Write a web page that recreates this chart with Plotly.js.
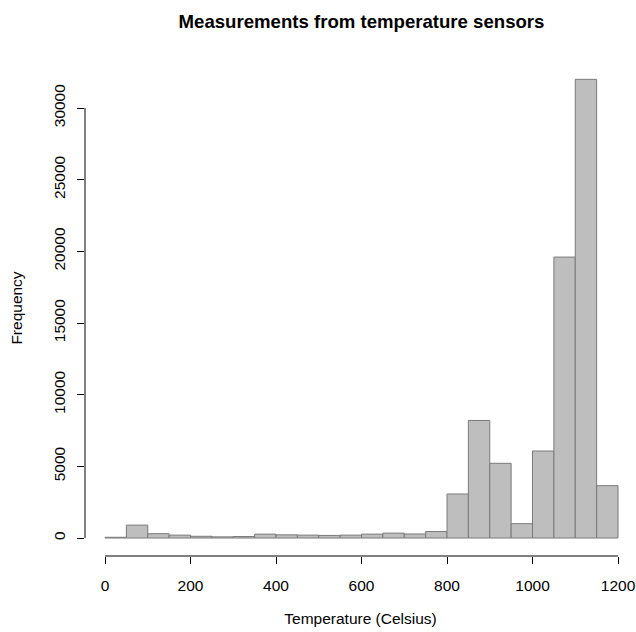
<!DOCTYPE html>
<html>
<head>
<meta charset="utf-8">
<script src="https://cdn.plot.ly/plotly-3.0.1.min.js"></script>
<style>html,body{margin:0;padding:0;background:#fff;}#chart{width:636px;height:632px;}</style>
</head>
<body>
<div id="chart"></div>
<script>
// Histogram bins (lower edges, Celsius) and frequencies
var binLower = [0, 50, 100, 150, 200, 250, 300, 350, 400, 450, 500, 550,
                600, 650, 700, 750, 800, 850, 900, 950, 1000, 1050, 1100, 1150];
var binWidth = 50;
var counts = [50, 900, 300, 200, 120, 80, 100, 270, 220, 200, 180, 200,
              270, 340, 280, 450, 3070, 8200, 5210, 1000, 6070, 19600, 32000, 3650];
var xTicks = [0, 200, 400, 600, 800, 1000, 1200];
var yTicks = [0, 5000, 10000, 15000, 20000, 25000, 30000];

var font = "Liberation Sans, Arial, sans-serif";

var trace = {
  type: 'bar',
  x: binLower,
  y: counts,
  width: binLower.map(function(){return binWidth;}),
  offset: 0,
  marker: {color: '#bebebe', line: {color: '#7a7a7a', width: 1}},
  hoverinfo: 'x+y'
};

var layout = {
  width: 636, height: 632,
  margin: {l: 85, r: 0, t: 60, b: 76},
  paper_bgcolor: '#ffffff', plot_bgcolor: '#ffffff',
  showlegend: false,
  bargap: 0,
  font: {family: font, color: '#000', size: 15.5},
  title: {
    text: '<b>Measurements from temperature sensors</b>',
    font: {family: font, size: 18.6, color: '#000'},
    xref: 'container', yref: 'container',
    x: 0.5684, y: 0.966, xanchor: 'center', yanchor: 'middle'
  },
  xaxis: {
    range: [-46.8, 1242.1],
    tickmode: 'array', tickvals: xTicks, ticktext: xTicks.map(String),
    ticks: 'outside', ticklen: 7, tickcolor: '#000', tickwidth: 1,
    showgrid: false, zeroline: false, showline: false,
    tickfont: {family: font, size: 15.5, color: '#000'},
    ticklabelstandoff: 8,
    title: {text: 'Temperature (Celsius)', font: {family: font, size: 15.5, color: '#000'}, standoff: 20}
  },
  yaxis: {
    range: [-1256, 33349],
    tickmode: 'array', tickvals: yTicks, ticktext: yTicks.map(String),
    ticks: 'outside', ticklen: 7, tickcolor: '#000', tickwidth: 1,
    tickangle: -90,
    showgrid: false, zeroline: false, showline: false,
    tickfont: {family: font, size: 15.5, color: '#000'},
    ticklabelstandoff: 6,
    title: {text: 'Frequency', font: {family: font, size: 15.5, color: '#000'}, standoff: 24}
  },
  shapes: [
    {type: 'line', xref: 'x', yref: 'paper', x0: xTicks[0], x1: xTicks[xTicks.length-1], y0: 0, y1: 0,
     line: {color: '#000', width: 1}},
    {type: 'line', xref: 'paper', yref: 'y', x0: 0, x1: 0, y0: yTicks[0], y1: yTicks[yTicks.length-1],
     line: {color: '#000', width: 1}}
  ]
};

Plotly.newPlot('chart', [trace], layout, {displayModeBar: false, staticPlot: true});
</script>
</body>
</html>
